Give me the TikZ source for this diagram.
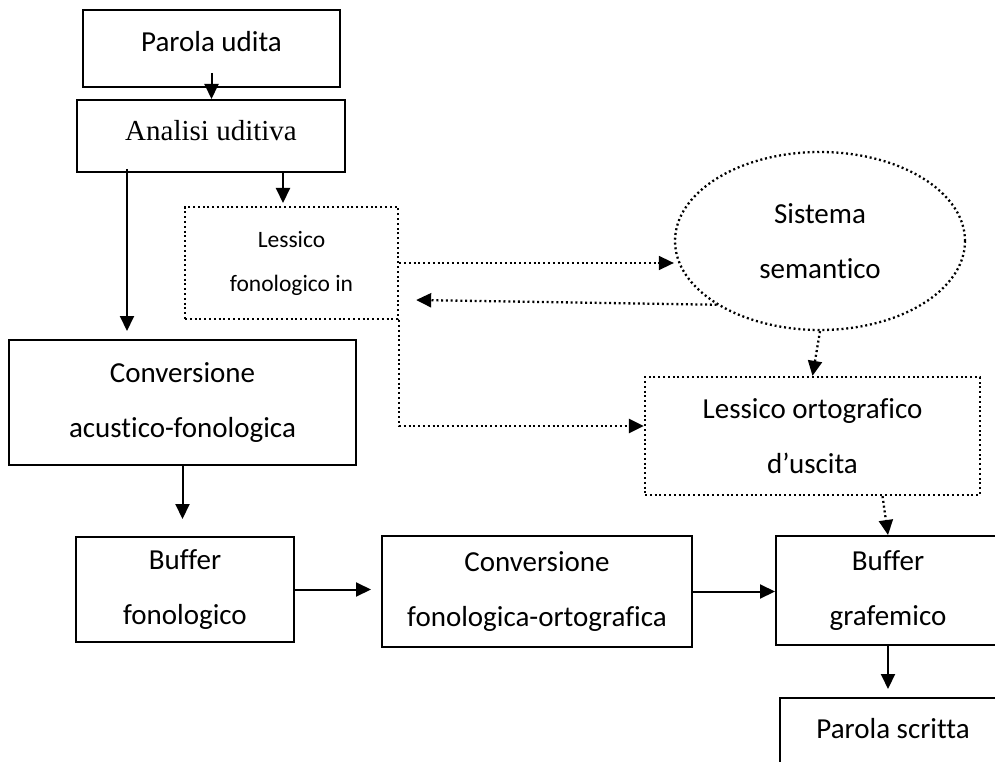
\documentclass[tikz,border=0pt]{standalone}
\usepackage{fontspec}
\setmainfont[Ligatures=NoCommon]{Carlito}
\newfontfamily\timesfont{Liberation Serif}
\usetikzlibrary{shapes.geometric,arrows.meta}
\newcommand{\boxfont}{\fontsize{29}{55}\selectfont}
\newcommand{\smallboxfont}{\fontsize{23.5}{44}\selectfont}

\tikzset{
  box/.style={draw,line width=2pt,inner sep=0pt,align=center,font=\boxfont},
  dotbox/.style={box,line width=2.3pt,dash pattern=on 2pt off 2.8pt},
  arr/.style={line width=2pt,-{Triangle[length=15pt,width=14pt]}},
  darr/.style={arr,line width=2.3pt,dash pattern=on 2pt off 2.8pt}
}

\begin{document}
\begin{tikzpicture}[x=1pt,y=-1pt]
\useasboundingbox (0,0) rectangle (995,762);

\node (heard) [box,minimum width=257pt,minimum height=77pt,text depth=14pt] at (211.5,48.5) {Parola udita};
\node (analysis) [box,font=\timesfont\boxfont,minimum width=268pt,minimum height=72pt,text depth=12pt] at (211,136) {Analisi uditiva};
\node (lexin) [dotbox,font=\smallboxfont,minimum width=213pt,minimum height=112pt] at (291.5,263) {Lessico\\fonologico in};
\node (semantic) [dotbox,ellipse,minimum width=290pt,minimum height=178pt] at (820,241) {Sistema\\semantico};
\node (acoustic) [box,minimum width=347pt,minimum height=125pt] at (182.5,402.5) {Conversione\\acustico-fonologica};
\node (lexout) [dotbox,minimum width=335pt,minimum height=118pt] at (812.5,436) {Lessico ortografico\\d’uscita};
\node (phonbuf) [box,minimum width=218pt,minimum height=105pt] at (185,589.5) {Buffer\\fonologico};
\node (convert) [box,minimum width=310pt,minimum height=111pt] at (537,591.5) {Conversione\\fonologica-ortografica};
\node (graphbuf) [box,minimum width=224pt,minimum height=109pt] at (888,590.5) {Buffer\\grafemico};
\node (written) [box,anchor=north,minimum width=226pt,text height=40pt,text depth=60pt] at (893,697) {Parola scritta};

\draw[arr] ([yshift=15pt]heard.south) -- (heard.south |- analysis.north);
\draw[arr] ([xshift=-84pt,yshift=4pt]analysis.south) -- +(0,162);
\draw[arr] ([xshift=72pt]analysis.south) -- +(0,30);
\draw[darr,line width=1.6pt] (lexin.east) -- (lexin.east -| semantic.west);
\draw[darr] (semantic.south west) -- ([xshift=17pt,yshift=-37pt]lexin.east);
\draw[darr] (lexin.south east) |- ([yshift=10pt]lexout.west);
\draw[darr] (semantic.south) -- (lexout.north);
\draw[darr] ([xshift=70pt]lexout.south) -- (graphbuf.north);
\draw[arr] (acoustic.south) -- +(0,53);
\draw[arr,shorten >=10pt] (phonbuf.east) -- (phonbuf.east -| convert.west);
\draw[arr] (convert.east) -- (convert.east -| graphbuf.west);
\draw[arr,shorten >=8pt] (graphbuf.south) -- (graphbuf.south |- written.north);

\end{tikzpicture}
\end{document}
